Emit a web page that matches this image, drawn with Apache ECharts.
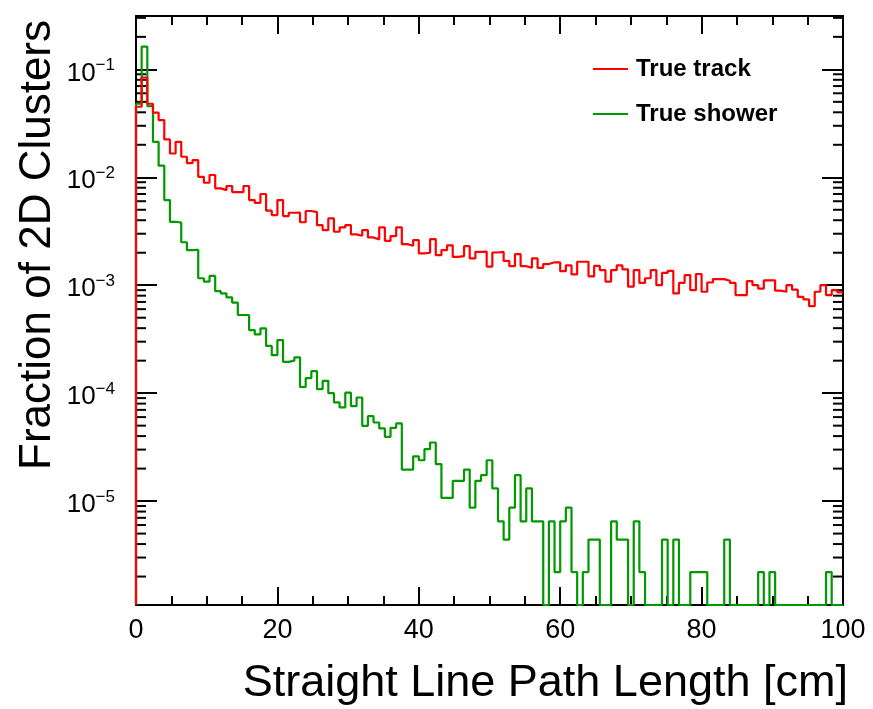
<!DOCTYPE html>
<html>
<head>
<meta charset="utf-8">
<title>Straight Line Path Length</title>
<script src="https://cdn.jsdelivr.net/npm/echarts@6/dist/echarts.min.js"></script>
<style>
  html, body { margin: 0; padding: 0; background: #fff; }
  #chart { width: 873px; height: 709px; }
</style>
</head>
<body>
<div id="chart"></div>
<script>
// 125 bins of 0.8 cm from 0 to 100 cm
const BIN_WIDTH = 0.8;
const X_MIN = 0;
const X_MAX = 100;
const Y_MIN = 1.09e-6;
const Y_MAX = 0.312;
const Y_DECADES = [1e-6, 1e-5, 1e-4, 1e-3, 1e-2, 1e-1];

const X_TITLE = 'Straight Line Path Length [cm]';
const Y_TITLE = 'Fraction of 2D Clusters';
const SERIES_NAMES = ['True track', 'True shower'];

const trackFraction = [
  0.045, 0.084, 0.048, 0.0397, 0.0339, 0.0224, 0.0166, 0.0213, 0.0155, 0.0135,
  0.0144, 0.0101, 0.0089, 0.0105, 0.0079, 0.0076, 0.0083, 0.0073, 0.0073, 0.0083,
  0.00615, 0.0058, 0.0070, 0.0049, 0.00447, 0.00615, 0.00437, 0.00469, 0.0047, 0.00383,
  0.00487, 0.00476, 0.0036, 0.00324, 0.00416, 0.00313, 0.00343, 0.0036, 0.00296, 0.00287,
  0.00324, 0.00277, 0.00266, 0.00343, 0.00258, 0.00285, 0.00343, 0.0024, 0.00232, 0.00262,
  0.00197, 0.0020, 0.00267, 0.0019, 0.00211, 0.00234, 0.00183, 0.00186, 0.0023, 0.00177,
  0.00204, 0.00205, 0.00149, 0.00201, 0.00204, 0.00168, 0.0015, 0.00194, 0.0015, 0.00145,
  0.00177, 0.00145, 0.00157, 0.00163, 0.00163, 0.00135, 0.00153, 0.00126, 0.00165, 0.00165,
  0.00121, 0.00151, 0.00138, 0.00108, 0.00138, 0.00153, 0.0014, 0.00097, 0.00138, 0.00105,
  0.00116, 0.00138, 0.0010, 0.0013, 0.00136, 0.00084, 0.00105, 0.00124, 0.0009, 0.00127,
  0.00087, 0.00106, 0.00114, 0.00114, 0.0011, 0.00105, 0.00081, 0.00081, 0.00109, 0.0010,
  0.00093, 0.00111, 0.00111, 0.00089, 0.00087, 0.0010, 0.00091, 0.00078, 0.00074, 0.00064,
  0.00087, 0.0010, 0.00081, 0.0009, 0.00086
];

const showerFraction = [
  0.048, 0.162, 0.0457, 0.0213, 0.0128, 0.00615, 0.00387, 0.0038, 0.0025, 0.00211,
  0.00213, 0.00116, 0.00108, 0.00122, 0.00088, 0.00084, 0.00077, 0.00069, 0.00053, 0.00053,
  3.84e-4, 3.5e-4, 3.98e-4, 2.74e-4, 2.25e-4, 3.1e-4, 1.95e-4, 2.0e-4, 2.15e-4, 1.14e-4,
  1.38e-4, 1.6e-4, 1.09e-4, 1.3e-4, 1.0e-4, 8.2e-5, 7.37e-5, 1.01e-4, 7.58e-5, 9.12e-5,
  4.98e-5, 6.12e-5, 5.35e-5, 4.71e-5, 3.94e-5, 4.77e-5, 5.24e-5, 1.96e-5, 1.96e-5, 2.6e-5,
  2.39e-5, 3.03e-5, 3.49e-5, 2.2e-5, 1.07e-5, 1.07e-5, 1.54e-5, 1.54e-5, 1.96e-5, 8.7e-6,
  1.54e-5, 1.74e-5, 2.39e-5, 1.31e-5, 6.5e-6, 4.4e-6, 8.7e-6, 1.74e-5, 6.5e-6, 1.31e-5,
  6.5e-6, 6.5e-6, 0, 6.5e-6, 2.2e-6, 6.5e-6, 8.7e-6, 2.2e-6, 0, 2.2e-6,
  4.4e-6, 4.4e-6, 0, 0, 6.5e-6, 4.4e-6, 4.4e-6, 0, 6.5e-6, 2.2e-6,
  0, 0, 0, 4.4e-6, 0, 4.4e-6, 0, 0, 2.2e-6, 2.2e-6,
  2.2e-6, 0, 0, 0, 4.4e-6, 0, 0, 0, 0, 0,
  2.2e-6, 0, 2.2e-6, 0, 0, 0, 0, 0, 0, 0,
  0, 0, 2.2e-6, 0, 0
];

const FONT = '"Liberation Sans", Arial, Helvetica, sans-serif';
const BLACK = '#000';

// histogram outline: starts at the bottom at x = 0, one point per bin low edge
function stepPoints(values) {
  const pts = [[X_MIN, Y_MIN]];
  values.forEach((v, i) => pts.push([X_MIN + i * BIN_WIDTH, v > 0 ? v : Y_MIN]));
  const last = values[values.length - 1];
  pts.push([X_MIN + values.length * BIN_WIDTH, last > 0 ? last : Y_MIN]);
  return pts;
}

// log minor ticks 2..9 x 10^n inside the axis range
const yMinorTicks = [];
Y_DECADES.forEach(d => {
  for (let k = 2; k <= 9; k++) {
    const v = k * d;
    if (v > Y_MIN && v < Y_MAX) yMinorTicks.push([X_MIN, v]);
  }
});

const tickStyle = { color: BLACK, width: 2 };
const axisLine = { show: true, onZero: false, lineStyle: { color: BLACK, width: 2 } };

function xAxis(position, showLabel) {
  return {
    type: 'value', position, min: X_MIN, max: X_MAX, interval: 20,
    axisLine,
    axisTick: { show: true, inside: true, length: 18, lineStyle: tickStyle },
    minorTick: { show: true, splitNumber: 4, length: 9, lineStyle: tickStyle },
    splitLine: { show: false },
    minorSplitLine: { show: false },
    axisLabel: { show: showLabel, margin: 12, fontSize: 27, fontFamily: FONT, color: BLACK }
  };
}

function yAxis(position, showLabel) {
  return {
    type: 'log', position, min: Y_MIN, max: Y_MAX,
    axisLine,
    axisTick: { show: true, inside: true, length: 21, lineStyle: tickStyle },
    splitLine: { show: false },
    axisLabel: {
      show: showLabel, margin: 21, showMinLabel: false, showMaxLabel: false,
      formatter: v => {
        const e = Math.log10(v);
        if (Math.abs(e - Math.round(e)) > 1e-6) return '';
        return '{b|10}{e|\u2212' + (-Math.round(e)) + '}';
      },
      rich: {
        b: { fontSize: 26, fontFamily: FONT, color: BLACK, padding: [8, 0, 0, 0] },
        e: { fontSize: 17, fontFamily: FONT, color: BLACK, padding: [0, 0, 8, 0] }
      }
    }
  };
}

const chart = echarts.init(document.getElementById('chart'), null, { renderer: 'canvas' });

chart.setOption({
  animation: false,
  backgroundColor: '#fff',
  grid: { left: 136, right: 30, top: 16, bottom: 104 },
  xAxis: [xAxis('bottom', true), xAxis('top', false)],
  yAxis: [yAxis('left', true), yAxis('right', false)],
  legend: {
    data: SERIES_NAMES,
    orient: 'vertical', left: 593, top: 54, padding: 0,
    icon: 'rect', itemWidth: 35, itemHeight: 2, itemGap: 15,
    textStyle: { fontFamily: FONT, fontWeight: 'bold', fontSize: 24, color: BLACK, lineHeight: 30, padding: [0, 0, 0, 3] }
  },
  graphic: [
    {
      type: 'text', x: 848, y: 684,
      style: { text: X_TITLE, fontSize: 45, fontFamily: FONT, fill: BLACK,
        align: 'right', textAlign: 'right', verticalAlign: 'middle', textVerticalAlign: 'middle' }
    },
    {
      type: 'text', x: 38, y: 20, rotation: Math.PI / 2,
      style: { text: Y_TITLE, fontSize: 44, fontFamily: FONT, fill: BLACK,
        align: 'right', textAlign: 'right', verticalAlign: 'middle', textVerticalAlign: 'middle' }
    }
  ],
  series: [
    {
      name: SERIES_NAMES[1], type: 'line', step: 'end', symbol: 'none', clip: false, z: 2,
      color: '#009900', lineStyle: { color: '#009900', width: 2.2 },
      data: stepPoints(showerFraction)
    },
    {
      name: SERIES_NAMES[0], type: 'line', step: 'end', symbol: 'none', clip: false, z: 3,
      color: '#ff0000', lineStyle: { color: '#ff0000', width: 2.2 },
      data: stepPoints(trackFraction)
    },
    {
      // minor log ticks on both vertical frame sides
      type: 'custom', silent: true, z: 1,
      data: yMinorTicks,
      encode: { x: 0, y: 1 },
      renderItem: (params, api) => {
        const v = api.value(1);
        const l = api.coord([X_MIN, v]);
        const r = api.coord([X_MAX, v]);
        return {
          type: 'group',
          children: [
            { type: 'line', shape: { x1: l[0], y1: l[1], x2: l[0] + 10, y2: l[1] }, style: { stroke: BLACK, lineWidth: 2 } },
            { type: 'line', shape: { x1: r[0] - 10, y1: r[1], x2: r[0], y2: r[1] }, style: { stroke: BLACK, lineWidth: 2 } }
          ]
        };
      }
    }
  ]
});
</script>
</body>
</html>
